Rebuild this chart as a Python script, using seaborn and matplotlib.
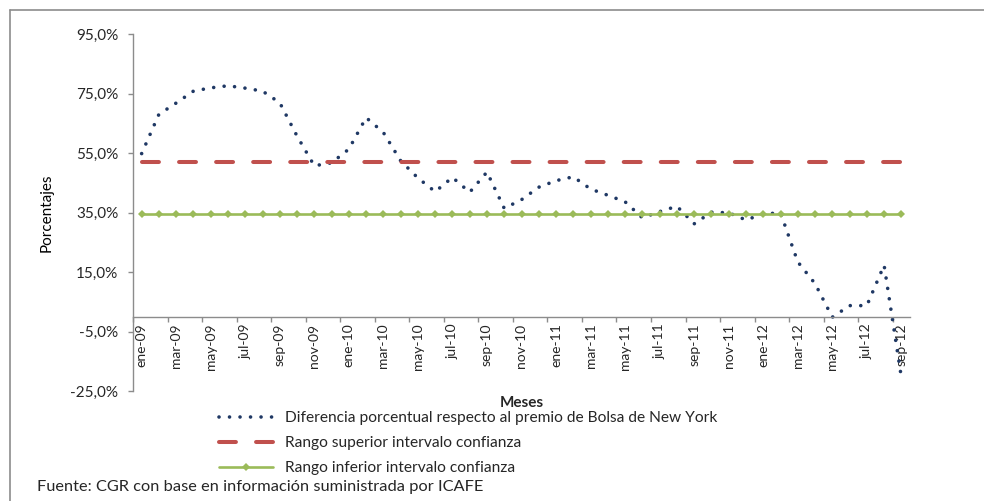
import numpy as np
import pandas as pd
import matplotlib
matplotlib.use("Agg")
import matplotlib.pyplot as plt
from matplotlib.ticker import FuncFormatter, FixedLocator
from matplotlib.lines import Line2D
import seaborn as sns

# ---------------- data ----------------
month_abbr = ['ene', 'feb', 'mar', 'abr', 'may', 'jun', 'jul', 'ago', 'sep', 'oct', 'nov', 'dic']
years = ['09', '10', '11', '12']
n_months = 45
months = [f"{m}-{y}" for y in years for m in month_abbr][:n_months]

diferencia = [54.8, 68.0, 71.8, 75.8, 76.9, 77.6, 76.8, 75.8, 71.9, 60.7,
              50.7, 51.7, 56.3, 66.9, 61.9, 52.4, 46.6, 42.0, 46.8, 41.8,
              48.6, 36.4, 39.3, 43.5, 45.7, 47.0, 42.9, 40.8, 38.6, 33.2,
              35.3, 37.1, 31.2, 35.1, 34.9, 32.5, 34.5, 34.9, 18.4, 11.1,
              -0.2, 3.7, 3.7, 17.3, -20.4]
rango_superior = [51.9] * n_months
rango_inferior = [34.5] * n_months

labels = ["Diferencia porcentual respecto al premio de Bolsa de New York",
          "Rango superior intervalo confianza",
          "Rango inferior intervalo confianza"]

y_ticks = [95, 75, 55, 35, 15, -5, -25]

df = pd.DataFrame({"pos": np.arange(n_months), "mes": months,
                   "dif": diferencia, "sup": rango_superior, "inf": rango_inferior})

# ---------------- style ----------------
sns.set_style("white")
plt.rcParams['font.family'] = ['Lato', 'DejaVu Sans']

W, H = 984, 501
fig = plt.figure(figsize=(W / 100, H / 100), dpi=100)
ax = fig.add_axes([133 / W, 1 - 391 / H, (910 - 133) / W, (391 - 34) / H])

txt_color = '#262626'
axis_color = '#8c8c8c'

# lines
sns.lineplot(data=df, x="pos", y="dif", ax=ax, color='#1F3864', lw=2.6,
             linestyle=(0, (0.01, 2.9)), dash_capstyle='round', label=labels[0])
sns.lineplot(data=df, x="pos", y="sup", ax=ax, color='#C0504D', lw=2.9,
             linestyle=(0, (4.2, 5.0)), dash_capstyle='round', label=labels[1])
sns.lineplot(data=df, x="pos", y="inf", ax=ax, color='#9BBB59', lw=1.9,
             marker='D', markersize=4.2, markeredgewidth=0,
             markerfacecolor='#9BBB59', label=labels[2])

# axes limits
ax.set_xlim(-0.5, n_months - 0.5)
ax.set_ylim(min(y_ticks), max(y_ticks))

# spines
for s in ['top', 'right']:
    ax.spines[s].set_visible(False)
ax.spines['left'].set_color(axis_color)
ax.spines['left'].set_linewidth(1.0)
ax.spines['bottom'].set_position(('data', 0))
ax.spines['bottom'].set_color(axis_color)
ax.spines['bottom'].set_linewidth(1.0)

# y ticks
ax.yaxis.set_major_locator(FixedLocator(y_ticks))
ax.yaxis.set_major_formatter(FuncFormatter(lambda v, p: f"{v:.1f}%".replace('.', ',')))
ax.tick_params(axis='y', which='major', left=True, length=3.6, width=1.0, color=axis_color,
               labelsize=11, labelcolor=txt_color, pad=7)

# x ticks: labels every 2 months at centers, marks at boundaries
lab_pos = list(range(0, n_months, 2))
ax.set_xticks(lab_pos)
ax.set_xticklabels([months[i] for i in lab_pos], rotation=90, va='top', ha='center')
ax.set_xticks([p - 0.5 for p in lab_pos], minor=True)
ax.tick_params(axis='x', which='major', bottom=True, length=0, labelsize=10,
               labelcolor=txt_color, pad=5)
ax.tick_params(axis='x', which='minor', bottom=True, length=3.6, width=1.0, color=axis_color)
ax.set_xlabel("")
ax.set_ylabel("")
ax.grid(False)

# axis titles
fig.text(47 / W, 1 - 213 / H, "Porcentajes", rotation=90, ha='center', va='center',
         fontsize=11, color='black')
fig.text(522 / W, 1 - 403 / H, "Meses", ha='center', va='center',
         fontsize=11, fontweight='bold', color=txt_color)

# legend
ax.legend(loc='upper left', bbox_to_anchor=(219 / W, 1 - 411 / H),
          bbox_transform=fig.transFigure, frameon=False, fontsize=11.2,
          handlelength=3.5, handletextpad=0.75, labelspacing=0.72,
          borderpad=0, borderaxespad=0)
for t in ax.get_legend().get_texts():
    t.set_color(txt_color)

# source
fig.text(37 / W, 1 - 487 / H, "Fuente: CGR con base en información suministrada por ICAFE",
         ha='left', va='center', fontsize=11.8, color=txt_color)

# outer frame (top and left edges visible)
fig.add_artist(Line2D([9.5 / W, 1.0], [1 - 9.5 / H, 1 - 9.5 / H], transform=fig.transFigure,
                      color='#8c8c8c', lw=1.2))
fig.add_artist(Line2D([9.5 / W, 9.5 / W], [0, 1 - 9.5 / H], transform=fig.transFigure,
                      color='#8c8c8c', lw=1.2))

fig.savefig("out.png", dpi=100, facecolor='white')
